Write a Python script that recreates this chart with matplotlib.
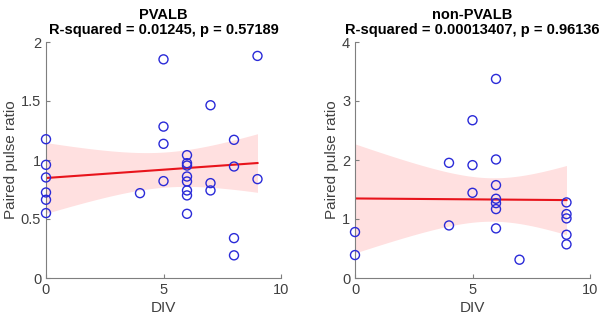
import numpy as np
import matplotlib
matplotlib.use("Agg")
import matplotlib.pyplot as plt

plt.rcParams['font.family'] = ['Liberation Sans', 'DejaVu Sans']

# PVALB data (DIV, paired pulse ratio)
pv_div = [0, 0, 0, 0, 0, 0, 4, 5, 5, 5, 5, 6, 6, 6, 6, 6, 6, 6, 6, 7, 7, 7, 8, 8, 8, 8, 9, 9]
pv_ppr = [1.176, 0.959, 0.852, 0.725, 0.663, 0.550, 0.719, 1.853, 1.283, 1.137, 0.821,
          1.041, 0.973, 0.953, 0.860, 0.818, 0.742, 0.700, 0.544, 1.464, 0.804, 0.742,
          1.171, 0.945, 0.338, 0.192, 1.882, 0.838]

# non-PVALB data
np_div = [0, 0, 4, 4, 5, 5, 5, 6, 6, 6, 6, 6, 6, 6, 7, 9, 9, 9, 9, 9]
np_ppr = [0.779, 0.389, 1.952, 0.891, 2.674, 1.913, 1.444, 3.374, 2.009, 1.574, 1.343,
          1.269, 1.168, 0.841, 0.310, 1.281, 1.083, 1.010, 0.733, 0.570]

titles = ['PVALB\nR-squared = 0.01245, p = 0.57189',
          'non-PVALB\nR-squared = 0.00013407, p = 0.96136']
ylims = [(0, 2), (0, 4)]
yticks = [[0, 0.5, 1, 1.5, 2], [0, 1, 2, 3, 4]]
yticklabels = [['0', '0.5', '1', '1.5', '2'], ['0', '1', '2', '3', '4']]


def fit_band(x, y, xs):
    x = np.asarray(x, float)
    y = np.asarray(y, float)
    n = len(x)
    b, a = np.polyfit(x, y, 1)
    res = y - (a + b * x)
    s = np.sqrt(np.sum(res ** 2) / (n - 2))
    sxx = np.sum((x - x.mean()) ** 2)
    tcrit = {26: 2.0555, 18: 2.1009}[n - 2]
    se = s * np.sqrt(1.0 / n + (xs - x.mean()) ** 2 / sxx)
    yf = a + b * xs
    return yf, yf - tcrit * se, yf + tcrit * se


fig = plt.figure(figsize=(6.05, 3.22), dpi=100)
lefts = [46 / 605, 355 / 605]
gray = '#404040'

for i, (xd, yd) in enumerate([(pv_div, pv_ppr), (np_div, np_ppr)]):
    ax = fig.add_axes([lefts[i], 44 / 322, 235 / 605, 236 / 322])
    xs = np.linspace(min(xd), max(xd), 100)
    yf, lo, hi = fit_band(xd, yd, xs)
    ax.fill_between(xs, lo, hi, color='#ffe0e0', lw=0, zorder=1)
    ax.plot(xs, yf, color='#e8141c', lw=1.5, zorder=2)
    ax.scatter(xd, yd, s=42, facecolors='none', edgecolors='#2a2ad8',
               linewidths=1.0, zorder=3, clip_on=False)
    ax.set_xlim(0, 10)
    ax.set_ylim(*ylims[i])
    ax.set_xticks([0, 5, 10])
    ax.set_yticks(yticks[i])
    ax.set_yticklabels(yticklabels[i])
    ax.spines['top'].set_visible(False)
    ax.spines['right'].set_visible(False)
    for sp in ['left', 'bottom']:
        ax.spines[sp].set_color('#7f7f7f')
        ax.spines[sp].set_linewidth(0.8)
    ax.tick_params(direction='in', length=3, colors='#7f7f7f',
                   labelcolor=gray, labelsize=10.5)
    ax.set_xlabel('DIV', fontsize=11, color=gray, labelpad=3)
    ax.set_ylabel('Paired pulse ratio', fontsize=11, color=gray, labelpad=2)
    ax.set_title(titles[i], fontsize=10.5, fontweight='bold', linespacing=1.1, pad=6)

fig.savefig('out.png', dpi=100)
